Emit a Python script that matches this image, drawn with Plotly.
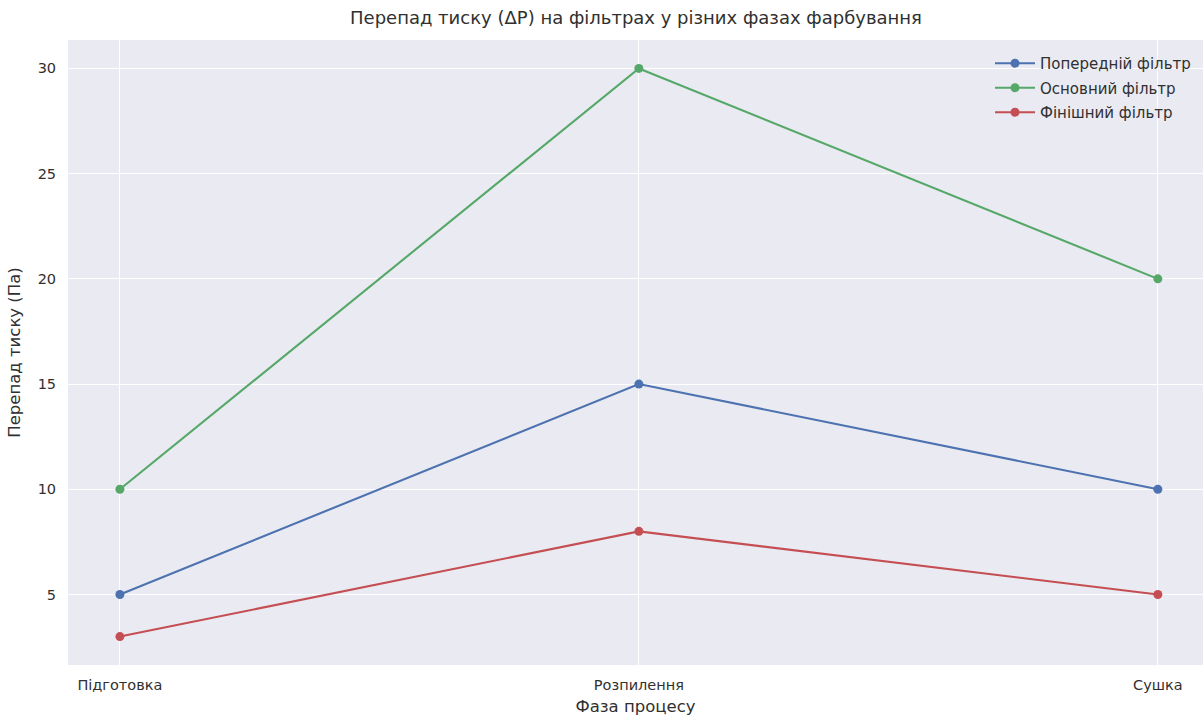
import plotly.graph_objects as go

phases = ["Підготовка", "Розпилення", "Сушка"]
pre_filter = [5, 15, 10]
main_filter = [10, 30, 20]
final_filter = [3, 8, 5]
series_names = ["Попередній фільтр", "Основний фільтр", "Фінішний фільтр"]
colors = ["#4C72B0", "#55A868", "#C44E52"]
y_ticks = [5, 10, 15, 20, 25, 30]

font_family = "DejaVu Sans, Verdana, sans-serif"
text_color = "#303030"

W, H = 1203, 718

fig = go.Figure()
for i, (name, vals, c) in enumerate(zip(series_names, [pre_filter, main_filter, final_filter], colors)):
    fig.add_trace(go.Scatter(
        x=phases, y=vals, name=name, mode="lines+markers",
        legendgroup=f"g{i}",
        line=dict(color=c, width=2.1),
        marker=dict(color=c, size=9),
    ))

fig.update_layout(
    width=W, height=H,
    margin=dict(l=68, r=0, t=40, b=53),
    paper_bgcolor="white",
    plot_bgcolor="#EAEAF2",
    font=dict(family=font_family, size=14.5, color=text_color),
    title=dict(text="Перепад тиску (ΔР) на фільтрах у різних фазах фарбування",
               x=636 / W, xref="container", xanchor="center",
               y=1 - 18 / H, yref="container", yanchor="middle",
               font=dict(size=18, color=text_color)),
    legend=dict(x=(990 - 68) / 1135, xanchor="left", y=1 - 7 / 625, yanchor="top",
                bgcolor="rgba(0,0,0,0)", font=dict(size=15, color=text_color),
                traceorder="grouped", tracegroupgap=2, itemwidth=40),
    showlegend=True,
)
fig.update_xaxes(
    type="category", range=[-0.1, 2.087], automargin=False,
    showgrid=True, gridcolor="white", gridwidth=1.4, zeroline=False,
    ticks="outside", ticklen=7, tickcolor="rgba(0,0,0,0)",
    title=dict(text="Фаза процесу", standoff=8, font=dict(size=16.5)),
)
fig.update_yaxes(
    range=[1.65, 31.35], tickvals=y_ticks, automargin=False,
    showgrid=True, gridcolor="white", gridwidth=1.4, zeroline=False,
    ticks="outside", ticklen=8, tickcolor="rgba(0,0,0,0)",
    title=dict(text="Перепад тиску (Па)", standoff=12, font=dict(size=16.5)),
)

fig.write_html(
    "out.html",
    config={"displayModeBar": False},
    post_script="document.body.style.margin='0px';document.body.style.overflow='hidden';",
)
